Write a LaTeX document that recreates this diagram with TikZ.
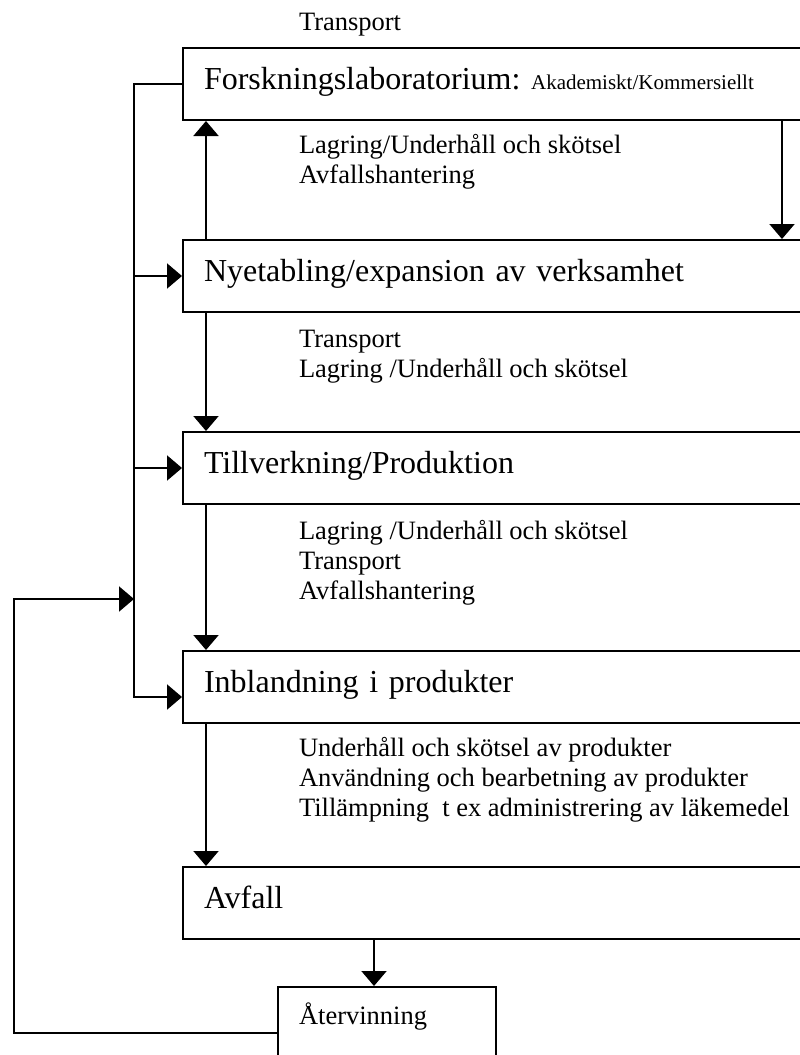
\documentclass[tikz,border=0pt]{standalone}
\usepackage{fontspec}
\setmainfont{Liberation Serif}
\usetikzlibrary{positioning,calc,arrows.meta}

\begin{document}
\begin{tikzpicture}[x=1pt, y=-1pt, line width=2pt, draw=black,
  stage/.style={draw, rectangle, anchor=west, minimum width=640pt, minimum height=72pt,
    inner xsep=21pt, inner ysep=0pt, text width=598pt, align=left,
    text height=21pt, text depth=11pt, font=\fontsize{32}{36}\selectfont},
  notes/.style={anchor=base west, align=left, inner sep=0pt, font=\fontsize{26.5}{30}\selectfont},
  arr/.style={-{Triangle[length=15pt,width=25pt]}}]

  \useasboundingbox (0,0) rectangle (800,1055);
  \clip (0,0) rectangle (800,1055);

  \node[notes] (top) at (298,30) {Transport};

  \node[stage] (lab)    at (182,84)  {Forskningslaboratorium:{\fontsize{21}{24}\selectfont\ Akademiskt/Kommersiellt}};
  \node[stage] (nyetab) at (182,276) {Nyetabling/expansion av verksamhet};
  \node[stage] (tillv)  at (182,468) {Tillverkning/Produktion};
  \node[stage] (inbl)   at (182,687) {Inblandning i produkter};
  \node[stage] (avfall) at (182,903) {Avfall};
  \node[draw, anchor=north west, minimum width=218pt, minimum height=72pt, inner xsep=21pt,
    inner ysep=0pt, text width=176pt, text height=16pt, text depth=14pt,
    font=\fontsize{26.5}{30}\selectfont] (atervinning) at (277,986) {Återvinning};

  % notes are anchored at the base of their last line
  \node[notes] (n1) at (298,183) {Lagring/Underhåll och skötsel\\Avfallshantering};
  \node[notes] (n2) at (298,377) {Transport\\Lagring /Underhåll och skötsel};
  \node[notes] (n3) at (298,599) {Lagring /Underhåll och skötsel\\Transport\\Avfallshantering};
  \node[notes] (n4) at (298,816) {Underhåll och skötsel av produkter\\Användning och bearbetning av produkter\\Tillämpning\ \ t ex administrering av läkemedel};

  \coordinate (bus)  at (134,0);
  \coordinate (loop) at (134,599);

  % main chain
  \draw[arr] ($(nyetab.north west)+(24,0)$) -- ($(lab.south west)+(24,0)$);
  \draw[arr] ($(lab.south west)+(600,0)$) -- ($(nyetab.north west)+(600,0)$);
  \foreach \a/\b in {nyetab/tillv, tillv/inbl, inbl/avfall} {
    \draw[arr] ($(\a.south west)+(24,0)$) -- ($(\b.north west)+(24,0)$);
  }
  \draw[arr] ($(avfall.south west)+(192,0)$) -- ($(atervinning.north west)+(97,0)$);

  % feedback lines
  \draw[arr] (lab.west) -| ($(inbl.west)+(-48,10)$) -- ($(inbl.west)+(0,10)$);
  \foreach \b in {nyetab, tillv} {
    \draw[arr] (\b.west -| bus) -- (\b.west);
  }
  \draw[arr] ($(atervinning.west)+(0,10)$) -| ($(loop)+(-120,0)$) -- (loop);
\end{tikzpicture}
\end{document}
